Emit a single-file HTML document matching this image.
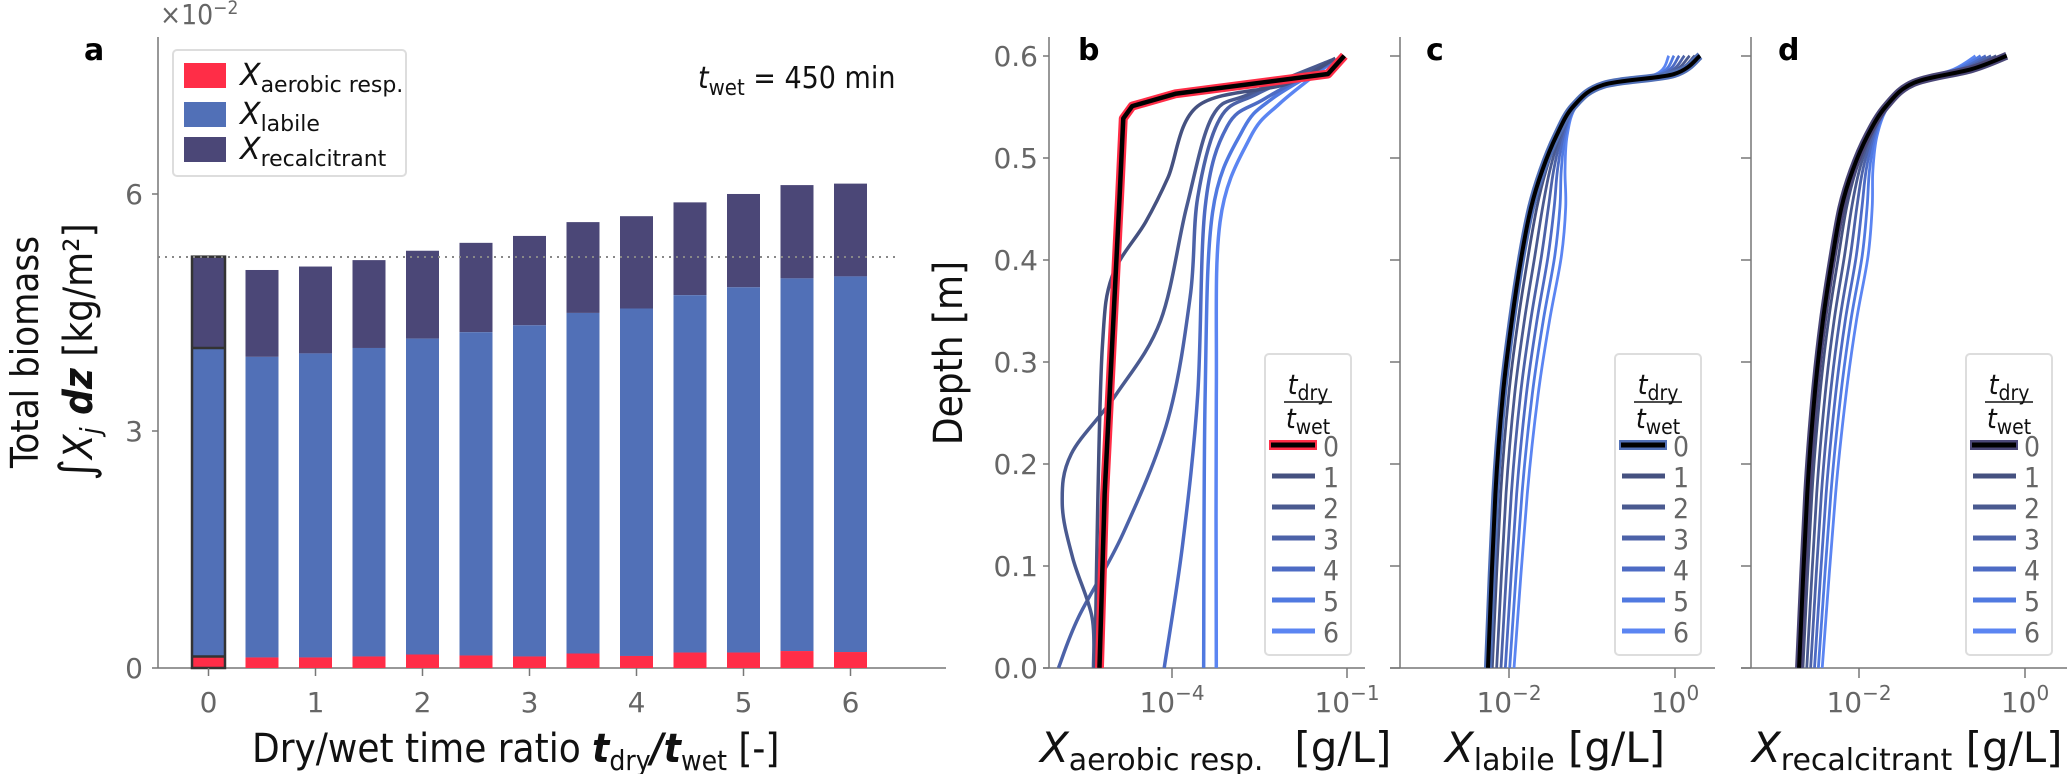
<!DOCTYPE html>
<html><head><meta charset="utf-8"><style>
body{margin:0;background:#fff}
svg{display:block}
text{font-family:"DejaVu Sans","Liberation Sans",sans-serif}
.tk{font-family:"DejaVu Sans Condensed","DejaVu Sans",sans-serif;font-size:28px;fill:#666}
.lb{font-family:"DejaVu Sans Condensed","DejaVu Sans",sans-serif;fill:#111}
</style></head><body>
<svg id="s" width="2067" height="774" viewBox="0 0 2067 774" xmlns="http://www.w3.org/2000/svg">
<g stroke="#777" stroke-width="1.5">
<line x1="158" y1="37" x2="158" y2="668"/>
<line x1="152" y1="668" x2="946" y2="668"/>
<line x1="152" y1="431" x2="158" y2="431"/>
<line x1="152" y1="194" x2="158" y2="194"/>
</g>
<g id="bars"></g>
<line x1="158" y1="257" x2="900" y2="257" stroke="#888" stroke-width="2" stroke-dasharray="2,5"/>
<g class="tk" text-anchor="end">
<text x="143" y="678">0</text><text x="143" y="441">3</text><text x="143" y="204">6</text>
</g>
<g class="tk" text-anchor="middle" id="xta"></g>
<text x="160" y="24" class="tk" font-size="26">×10<tspan dy="-10" font-size="19">−2</tspan></text>
<text x="84" y="60" font-size="30" font-weight="bold">a</text>
<rect x="173" y="50" width="233" height="126" rx="4" fill="#fff" stroke="#ddd" stroke-width="2"/>
<rect x="184" y="63" width="42" height="25" fill="#ff2d47"/>
<rect x="184" y="102" width="42" height="25" fill="#5170b7"/>
<rect x="184" y="137" width="42" height="25" fill="#4b4777"/>
<g class="lb" font-size="30"><text x="240" y="85" font-style="italic">X<tspan font-style="normal" font-size="22" dy="7">aerobic resp.</tspan></text>
<text x="240" y="124" font-style="italic">X<tspan font-style="normal" font-size="22" dy="7">labile</tspan></text>
<text x="240" y="159" font-style="italic">X<tspan font-style="normal" font-size="22" dy="7">recalcitrant</tspan></text></g>
<text x="698" y="88" class="lb" font-size="30"><tspan font-style="italic">t</tspan><tspan font-size="22" dy="7">wet</tspan><tspan dy="-7"> =  450 min</tspan></text>
<text transform="translate(38,352) rotate(-90)" text-anchor="middle" font-size="38" fill="#222" class="lb">Total biomass</text>
<text transform="translate(92,352) rotate(-90)" text-anchor="middle" font-size="40" fill="#222" class="lb"><tspan font-size="46">∫</tspan><tspan font-style="italic">X</tspan><tspan font-style="italic" font-size="28" dy="8">j</tspan><tspan dy="-8" font-style="italic" font-weight="bold"> dz</tspan> [kg/m²]</text>
<text x="252" y="762" class="lb" font-size="40" fill="#222">Dry/wet time ratio   <tspan font-style="italic" font-weight="bold">t</tspan><tspan font-size="28" dy="8">dry</tspan><tspan dy="-8" font-style="italic" font-weight="bold">/t</tspan><tspan font-size="28" dy="8">wet</tspan><tspan dy="-8"> [-]</tspan></text>

<g stroke="#777" stroke-width="1.5">
<line x1="1049" y1="37" x2="1049" y2="668"/><line x1="1043" y1="668" x2="1365" y2="668"/>
<line x1="1400" y1="37" x2="1400" y2="668"/><line x1="1390" y1="668" x2="1715" y2="668"/>
<line x1="1751" y1="37" x2="1751" y2="668"/><line x1="1741" y1="668" x2="2067" y2="668"/>
<line x1="1172" y1="668" x2="1172" y2="678"/><line x1="1347" y1="668" x2="1347" y2="678"/>
<line x1="1509" y1="668" x2="1509" y2="678"/><line x1="1675" y1="668" x2="1675" y2="678"/>
<line x1="1859" y1="668" x2="1859" y2="678"/><line x1="2025" y1="668" x2="2025" y2="678"/>
</g>
<g id="yt" stroke="#777" stroke-width="1.5"></g>
<g class="tk" text-anchor="end" id="ytl"></g>
<g class="tk" text-anchor="middle">
<text x="1172" y="712">10<tspan font-size="20" dy="-12">−4</tspan></text>
<text x="1347" y="712">10<tspan font-size="20" dy="-12">−1</tspan></text>
<text x="1509" y="712">10<tspan font-size="20" dy="-12">−2</tspan></text>
<text x="1675" y="712">10<tspan font-size="20" dy="-12">0</tspan></text>
<text x="1859" y="712">10<tspan font-size="20" dy="-12">−2</tspan></text>
<text x="2025" y="712">10<tspan font-size="20" dy="-12">0</tspan></text>
</g>
<text transform="translate(962,353) rotate(-90)" text-anchor="middle" font-size="40" fill="#222" class="lb">Depth [m]</text>
<text x="1078" y="60" font-size="30" font-weight="bold">b</text>
<text x="1426" y="60" font-size="30" font-weight="bold">c</text>
<text x="1778" y="60" font-size="30" font-weight="bold">d</text>
<g class="lb" font-size="42" fill="#222">
<text x="1040" y="762" font-style="italic">X<tspan font-style="normal" font-size="30" dy="8">aerobic resp.</tspan><tspan font-style="normal" dy="-8" x="1281"> [g/L]</tspan></text>
<text x="1445" y="762" font-style="italic">X<tspan font-style="normal" font-size="30" dy="8">labile</tspan><tspan font-style="normal" dy="-8"> [g/L]</tspan></text>
<text x="1752" y="762" font-style="italic">X<tspan font-style="normal" font-size="30" dy="8">recalcitrant</tspan><tspan font-style="normal" dy="-8"> [g/L]</tspan></text>
</g>
<g id="curves" transform="translate(900,0) scale(0.74425,0.4936)" fill="none" stroke-linejoin="round"></g>
<g id="legs"></g>
</svg>
<script>
var NS="http://www.w3.org/2000/svg";
function el(p,t,a,txt){var e=document.createElementNS(NS,t);for(var k in a)e.setAttribute(k,a[k]);if(txt!=null)e.textContent=txt;p.appendChild(e);return e;}
var $=function(i){return document.getElementById(i)};
var tot=[520,547,540,527,508,492,478,450,438,410,393,375,372],
lab=[705,723,716,705,686,673,659,634,625,598,582,564,560],
red=[1330,1332,1332,1330,1326,1328,1330,1324,1329,1322,1322,1319,1321];
function Y(z){return z/2.026;}
var g=$("bars");
for(var i=0;i<13;i++){var cx=208.5+i*53.5,x=cx-16.5,w=33;
el(g,"rect",{x:x,y:Y(tot[i]),width:w,height:Y(lab[i])-Y(tot[i]),fill:"#4b4777"});
el(g,"rect",{x:x,y:Y(lab[i]),width:w,height:Y(red[i])-Y(lab[i]),fill:"#5170b7"});
el(g,"rect",{x:x,y:Y(red[i]),width:w,height:668-Y(red[i]),fill:"#ff2d47"});
if(i==0){el(g,"rect",{x:x,y:Y(tot[i]),width:w,height:668-Y(tot[i]),fill:"none",stroke:"#333","stroke-width":2.5});
el(g,"line",{x1:x,x2:x+w,y1:Y(lab[i]),y2:Y(lab[i]),stroke:"#333","stroke-width":2.5});
el(g,"line",{x1:x,x2:x+w,y1:Y(red[i]),y2:Y(red[i]),stroke:"#333","stroke-width":2.5});}
}
for(var k=0;k<=6;k++){var xx=208.5+k*107;el($("xta"),"text",{x:xx,y:712},k);el(g,"line",{x1:xx,x2:xx,y1:668,y2:676,stroke:"#777","stroke-width":1.5});}
for(var k=0;k<=6;k++){var yy=668-k*102;
el($("ytl"),"text",{x:1038,y:yy+10},(k/10).toFixed(1));
[1400,1751].forEach(function(sx){el($("yt"),"line",{x1:sx-10,x2:sx,y1:yy,y2:yy});});
el($("yt"),"line",{x1:1043,x2:1049,y1:yy,y2:yy});}
var cols=["#000","#455180","#4a5a90","#4c62a8","#4d6bc4","#5079e0","#5b85f2"];
var C=$("curves");
function path(pts){var d="M"+pts[0][0]+","+pts[0][1];
for(var i=1;i<pts.length;i++){d+=" L"+pts[i][0]+","+pts[i][1];}return d;}
function smooth(pts){var d="M"+pts[0].join(",");for(var i=0;i<pts.length-1;i++){var p0=pts[i-1]||pts[i],p1=pts[i],p2=pts[i+1],p3=pts[i+2]||p2;
d+=" C"+(p1[0]+(p2[0]-p0[0])/6)+","+(p1[1]+(p2[1]-p0[1])/6)+" "+(p2[0]-(p3[0]-p1[0])/6)+","+(p2[1]-(p3[1]-p1[1])/6)+" "+p2[0]+","+p2[1];}return d;}
function line(d,c,w){el(C,"path",{d:d,stroke:c,"stroke-width":w,"vector-effect":"non-scaling-stroke"});}
var bc=[
[[585,118],[520,170],[400,215],[360,360],[330,450],[285,560],[272,700],[266,1000],[262,1353]],
[[583,120],[470,190],[420,235],[385,420],[350,650],[290,800],[230,920],[218,1020],[232,1130],[258,1250],[260,1353]],
[[582,122],[480,190],[430,240],[400,400],[390,600],[360,850],[300,1080],[240,1250],[213,1353]],
[[582,124],[490,200],[440,255],[410,420],[400,800],[380,1100],[355,1353]],
[[582,126],[500,200],[460,265],[420,430],[410,800],[408,1353]],
[[580,126],[510,210],[470,280],[430,450],[425,800],[425,1353]]];
for(var i=5;i>=0;i--)line(smooth(bc[i]),cols[i+1],3.5);
var b0=[[597,113],[575,150],[370,190],[312,215],[300,240],[295,400],[285,700],[275,1000],[268,1353]];
line(path(b0),"#ff2d47",9);line(path(b0),"#000",4.5);
function ff(y){if(y<=160)return 0;if(y<500){var t=(y-160)/340;return t*t*(3-2*t);}return 1-0.35*(y-500)/850;}
function fam(base,spread,outline){
for(var i=6;i>=1;i--){var pts=base.map(function(p,j){var y=p[1];
var sh=spread*i*ff(y); if(j==0)sh=-i*7; if(j==1)sh=-i*4;return [p[0]+sh,y];});
line(smooth(pts),cols[i],2.8);}
line(smooth(base),outline,8);line(smooth(base),"#000",4);}
fam([[1075,113],[1040,150],[945,172],[905,215],[882,275],[863,345],[848,420],[835,520],[822,650],[810,800],[800,1000],[790,1353]],9,"#5170b7");
fam([[1487,113],[1440,140],[1362,168],[1325,215],[1300,275],[1280,345],[1265,420],[1253,520],[1240,650],[1229,800],[1219,1000],[1208,1353]],8,"#4b4777");
function leg(x0,out){var L=$("legs");
el(L,"rect",{x:x0,y:354,width:86,height:301,rx:4,fill:"#fff",stroke:"#ddd","stroke-width":2});
var cx=x0+43;
var t=el(L,"text",{x:cx,y:394,"font-size":28,"class":"lb","text-anchor":"middle"});
t.innerHTML='<tspan font-style="italic">t</tspan><tspan font-size="21" dy="6">dry</tspan>';
el(L,"line",{x1:cx-24,x2:cx+24,y1:402,y2:402,stroke:"#111","stroke-width":1.5});
t=el(L,"text",{x:cx,y:428,"font-size":28,"class":"lb","text-anchor":"middle"});
t.innerHTML='<tspan font-style="italic">t</tspan><tspan font-size="21" dy="6">wet</tspan>';
for(var i=0;i<=6;i++){var y=445+i*31;
if(i==0){el(L,"line",{x1:x0+4,x2:x0+52,y1:y,y2:y,stroke:out,"stroke-width":10});el(L,"line",{x1:x0+6,x2:x0+50,y1:y,y2:y,stroke:"#000","stroke-width":5});}
else el(L,"line",{x1:x0+7,x2:x0+50,y1:y,y2:y,stroke:cols[i],"stroke-width":5});
el(L,"text",{x:x0+58,y:y+11,"font-size":28,"class":"tk",fill:"#333"},i);}
}
leg(1265,"#ff2d47");leg(1615,"#5170b7");leg(1966,"#4b4777");
</script>
</body></html>
